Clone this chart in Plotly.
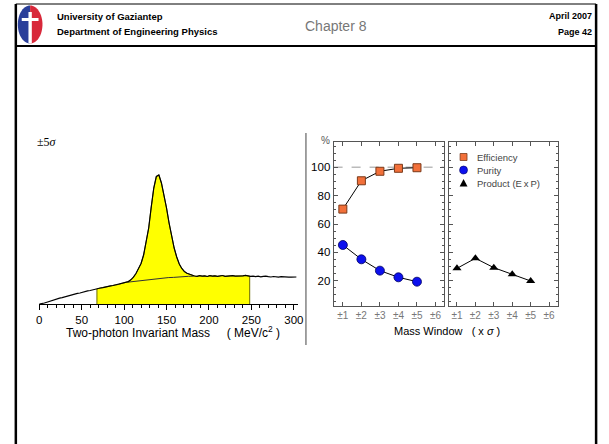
import numpy as np
import plotly.graph_objects as go

W, H = 609, 444

# ---------------- data ----------------
mass = list(range(0, 304, 3))  # MeV/c^2
counts = [0.0, 0.3, 1.0, 1.8, 2.7, 3.4, 4.3, 5.0, 5.8, 6.4,
          7.2, 7.7, 8.6, 9.1, 9.9, 10.6, 11.0, 11.9, 12.4, 13.1,
          13.5, 14.3, 14.9, 15.4, 16.0, 16.3, 17.1, 17.4, 18.2, 18.5,
          19.1, 19.4, 20.1, 20.5, 21.3, 22.4, 24.2, 26.8, 30.5, 35.6,
          40.5, 49.0, 61.0, 76.0, 97.0, 116.0, 127.5, 129.0, 121.0, 110.0,
          96.0, 81.0, 67.0, 56.0, 47.0, 40.0, 35.5, 32.5, 30.8, 29.6,
          28.5, 28.0,
          27.6, 28.3, 27.8, 28.1, 27.5, 28.4, 27.9, 28.2, 27.6, 28.0,
          28.5, 27.7, 28.1, 27.8, 28.3, 27.9, 28.0, 27.5, 28.2, 28.6,
          28.0, 27.7, 27.9, 27.4, 27.8, 27.2, 27.6, 27.9, 27.3, 27.0,
          27.5, 27.2, 26.8, 27.3, 27.0, 27.2, 26.8, 26.9, 26.7, 27.0]
assert len(mass) == len(counts)

bg_mass = [104, 110, 116, 122, 128, 134, 140, 146, 152, 158, 164, 170, 176, 182]
bg_counts = [21.8, 22.4, 23.3, 23.7, 24.5, 24.8, 25.5, 25.8, 26.4, 26.6, 27.1, 27.2, 27.7, 27.8]

window_lo, window_hi = 68, 248
mass_ticks = [0, 50, 100, 150, 200, 250, 300]

win = [1, 2, 3, 4, 5]
win_ticks = [1, 2, 3, 4, 5, 6]
win_labels = ["±1", "±2", "±3", "±4", "±5", "±6"]
efficiency = [70.5, 90.5, 97.2, 99.3, 99.7]
purity = [45.2, 35.1, 27.1, 22.4, 19.3]
product = [28.7, 35.8, 29.2, 24.5, 19.8]
pct_ticks = [20, 40, 60, 80, 100]

# ---------------- helpers ----------------
def X(p):
    return p / W

def Y(p):
    return 1 - p / H

FONT = "Liberation Sans, Arial, sans-serif"

fig = go.Figure()

# yellow window fill under the histogram
m_arr = np.array(mass, float)
c_arr = np.array(counts, float)
sel = (m_arr > window_lo) & (m_arr < window_hi)
fx = [window_lo, window_lo] + list(m_arr[sel]) + [window_hi, window_hi]
fy = [0, float(np.interp(window_lo, m_arr, c_arr))] + list(c_arr[sel]) + \
     [float(np.interp(window_hi, m_arr, c_arr)), 0]
fig.add_trace(go.Scatter(x=fx, y=fy, fill="toself", fillcolor="#FFFF00",
                         mode="lines", line=dict(color="#6b6b00", width=1),
                         hoverinfo="skip", showlegend=False, xaxis="x", yaxis="y"))
# background line under the peak
fig.add_trace(go.Scatter(x=bg_mass, y=bg_counts, mode="lines",
                         line=dict(color="#333", width=1), showlegend=False,
                         xaxis="x", yaxis="y"))
# histogram
fig.add_trace(go.Scatter(x=mass, y=counts, mode="lines",
                         line=dict(color="black", width=1.2), showlegend=False,
                         xaxis="x", yaxis="y"))

# middle panel
fig.add_trace(go.Scatter(x=win, y=efficiency, mode="lines+markers",
                         line=dict(color="black", width=1),
                         marker=dict(symbol="square", size=8, color="#F2703A",
                                     line=dict(color="#7a3a1a", width=1)),
                         showlegend=False, xaxis="x2", yaxis="y2"))
fig.add_trace(go.Scatter(x=win, y=purity, mode="lines+markers",
                         line=dict(color="black", width=1),
                         marker=dict(symbol="circle", size=9, color="#0c10ee",
                                     line=dict(color="#000060", width=0.8)),
                         showlegend=False, xaxis="x2", yaxis="y2"))
# right panel
fig.add_trace(go.Scatter(x=win, y=product, mode="lines+markers",
                         line=dict(color="black", width=1),
                         marker=dict(symbol="triangle-up", size=8, color="black"),
                         showlegend=False, xaxis="x3", yaxis="y3"))

frame_axis = dict(showline=True, linecolor="#555", linewidth=1, mirror="ticks",
                  ticks="inside", ticklen=4, tickcolor="#555", showgrid=False,
                  zeroline=False)

# middle y: top 142 -> bottom 306 px; 100 at 167.3, 20 at 280.7
ppu = (280.7 - 167.3) / 80.0
y0px = 280.7 + 20 * ppu
y_rng = [(y0px - 306) / ppu, (y0px - 142) / ppu]

fig.update_layout(
    width=W, height=H, margin=dict(l=0, r=0, t=0, b=0),
    paper_bgcolor="white", plot_bgcolor="rgba(0,0,0,0)",
    font=dict(family=FONT, color="black"),
    xaxis=dict(domain=[X(36.7), X(299)], range=[0, 305], showline=True,
               linecolor="black", linewidth=1, ticks="outside", ticklen=5,
               tickcolor="black", tickvals=mass_ticks, tickfont=dict(size=11.5),
               minor=dict(ticks="outside", ticklen=3, dtick=10, tickcolor="black"),
               showgrid=False, zeroline=False, anchor="y"),
    yaxis=dict(domain=[Y(304), Y(150)], range=[0, 154], visible=False, anchor="x"),
    xaxis2=dict(domain=[X(335), X(446.7)], range=[0.5, 6.45], tickvals=win_ticks,
                ticktext=win_labels, tickfont=dict(size=10, color="#777"),
                anchor="y2", **frame_axis),
    yaxis2=dict(domain=[Y(306), Y(142)], range=y_rng, tickvals=pct_ticks,
                tickfont=dict(size=11.5), anchor="x2",
                minor=dict(ticks="inside", ticklen=2, dtick=5, tickcolor="#555"),
                **frame_axis),
    xaxis3=dict(domain=[X(451.7), X(562.7)], range=[0.555, 6.5], tickvals=win_ticks,
                ticktext=win_labels, tickfont=dict(size=10, color="#777"),
                anchor="y3", **frame_axis),
    yaxis3=dict(domain=[Y(306), Y(142)], range=y_rng, tickvals=pct_ticks,
                showticklabels=False, anchor="x3",
                minor=dict(ticks="inside", ticklen=2, dtick=5, tickcolor="#555"),
                **frame_axis),
)

shapes = []
# dashed 100% line
shapes.append(dict(type="line", xref="x2 domain", yref="y2", x0=0, x1=1, y0=100, y1=100,
                   line=dict(color="#bbbbbb", width=1.5, dash="dash"), layer="below"))
# separator line between panels
shapes.append(dict(type="line", xref="paper", yref="paper", x0=X(307), x1=X(307),
                   y0=Y(133), y1=Y(345), line=dict(color="#444", width=1)))
# slide frame
for (x0, y0, x1, y1, w) in [(13, 4, 601, 4, 1), (13, 46, 601, 46, 2),
                            (13, 4, 13, 444, 2.5), (601, 4, 601, 444, 2.5)]:
    shapes.append(dict(type="line", xref="paper", yref="paper", x0=X(x0), x1=X(x1),
                       y0=Y(y0), y1=Y(y1), line=dict(color="black", width=w)))

# logo
def ellipse_half(cx, cy, rx, ry, side):
    t = np.linspace(-np.pi / 2, np.pi / 2, 30)
    sgn = 1 if side == "right" else -1
    pts = [(cx + sgn * rx * np.cos(a), cy + ry * np.sin(a)) for a in t]
    d = "M %f,%f " % (X(pts[0][0]), Y(pts[0][1]))
    d += " ".join("L %f,%f" % (X(px), Y(py)) for px, py in pts[1:]) + " Z"
    return d

cx, cy, rx, ry = 27.5, 24.5, 12.5, 19
shapes.append(dict(type="path", xref="paper", yref="paper", path=ellipse_half(cx, cy, rx, ry, "left"),
                   fillcolor="#2a3f9a", line=dict(width=0)))
shapes.append(dict(type="path", xref="paper", yref="paper", path=ellipse_half(cx, cy, rx, ry, "right"),
                   fillcolor="#d8283a", line=dict(width=0)))
shapes.append(dict(type="rect", xref="paper", yref="paper", x0=X(25.8), x1=X(29.2),
                   y0=Y(43.5), y1=Y(12), fillcolor="white", line=dict(width=0)))
shapes.append(dict(type="rect", xref="paper", yref="paper", x0=X(19), x1=X(36),
                   y0=Y(21), y1=Y(18), fillcolor="white", line=dict(width=0)))

# legend symbols (right panel)
lx = 466.7
shapes.append(dict(type="rect", xref="paper", yref="paper", x0=X(lx - 3.5), x1=X(lx + 3.5),
                   y0=Y(157 + 3.5), y1=Y(157 - 3.5), fillcolor="#F2703A",
                   line=dict(color="#7a3a1a", width=0.8)))
shapes.append(dict(type="circle", xref="paper", yref="paper", x0=X(lx - 4), x1=X(lx + 4),
                   y0=Y(170 + 4), y1=Y(170 - 4), fillcolor="#0c10ee",
                   line=dict(color="#000060", width=0.6)))
shapes.append(dict(type="path", xref="paper", yref="paper",
                   path="M %f,%f L %f,%f L %f,%f Z" % (X(lx - 4), Y(186.5), X(lx + 4), Y(186.5), X(lx), Y(179)),
                   fillcolor="black", line=dict(width=0)))
fig.update_layout(shapes=shapes)

ann = []
def txt(x, y, s, size, color="black", xanchor="center", family=FONT, bold=False):
    if bold:
        s = "<b>" + s + "</b>"
    ann.append(dict(x=X(x), y=Y(y), xref="paper", yref="paper", text=s, showarrow=False,
                    xanchor=xanchor, yanchor="middle", font=dict(size=size, color=color, family=family)))

# header
txt(53, 17, "University of Gaziantep", 9.5, xanchor="left", bold=True)
txt(53, 31.5, "Department of Engineering Physics", 9.5, xanchor="left", bold=True)
txt(337, 26, "Chapter 8", 14, color="#777")
txt(599, 16, "April 2007", 9, xanchor="right", bold=True)
txt(599, 31.5, "Page 42", 9, xanchor="right", bold=True)

# left panel texts
txt(45, 142, "±5<i>σ</i>", 12, family="Liberation Serif, Times New Roman, serif")
txt(172, 332, "Two-photon Invariant Mass\u00a0\u00a0\u00a0\u00a0\u00a0(\u00a0MeV/c<sup>2</sup>\u00a0)", 12)

# middle/right texts
txt(327, 140, "%", 10, color="#555")
txt(450, 331, "Mass Window\u00a0\u00a0\u00a0(\u00a0x\u00a0<i>σ</i>\u00a0)", 11)
txt(478, 157, "Efficiency", 9.5, color="#444", xanchor="left")
txt(478, 170, "Purity", 9.5, color="#444", xanchor="left")
txt(478, 183, "Product (E\u2009x\u2009P)", 9.5, color="#444", xanchor="left")

fig.update_layout(annotations=ann)
fig.write_html("out.html", config={"displayModeBar": False, "staticPlot": True},
               post_script="document.body.style.margin='0';document.body.style.overflow='hidden';")
